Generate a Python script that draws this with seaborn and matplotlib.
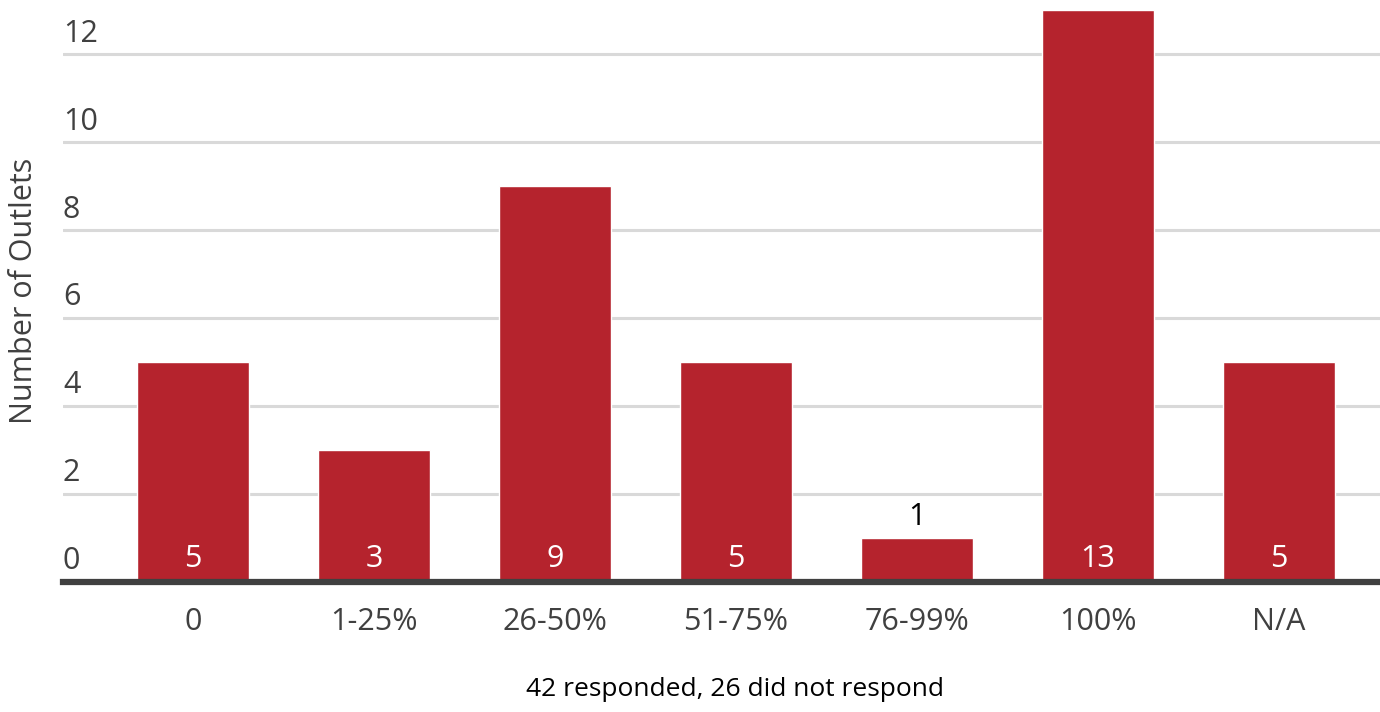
import matplotlib
matplotlib.use("Agg")
import matplotlib.pyplot as plt
import matplotlib.transforms as mtransforms
import pandas as pd
import seaborn as sns

# Share of content categories per outlet
categories = ["0", "1-25%", "26-50%", "51-75%", "76-99%", "100%", "N/A"]
outlets = [5, 3, 9, 5, 1, 13, 5]
yticks = [0, 2, 4, 6, 8, 10, 12]
note = "42 responded, 26 did not respond"

df = pd.DataFrame({"category": categories, "outlets": outlets})

sns.set_style("white")
plt.rcParams["font.family"] = ["Open Sans", "DejaVu Sans"]

bar_color = "#B5232D"
text_color = "#404040"
fs = 22

fig = plt.figure(figsize=(13.8, 7.12), dpi=100)
ax = fig.add_axes([63 / 1380, 1 - 582 / 712, 1 - 63 / 1380, 582 / 712])

sns.barplot(data=df, x="category", y="outlets", color=bar_color,
            saturation=1, width=0.62, ax=ax, zorder=3)

ax.set_ylim(0, 13.23)
ax.set_xlim(-0.72, 6.56)
ax.set_yticks(yticks)
ax.yaxis.grid(True, color="#d9d9d9", linewidth=2.2, zorder=0)
ax.tick_params(axis="y", labelleft=False, length=0)
ax.tick_params(axis="x", length=0, pad=18, labelsize=fs, labelcolor=text_color)

for s in ["top", "right", "left"]:
    ax.spines[s].set_visible(False)
ax.spines["bottom"].set_color(text_color)
ax.spines["bottom"].set_linewidth(4.5)
ax.spines["bottom"].set_zorder(5)

# y tick labels sit above their gridlines
trans = mtransforms.blended_transform_factory(ax.transAxes, ax.transData)
for t in yticks:
    ax.annotate(str(t), xy=(0, t), xycoords=trans, xytext=(0, 4),
                textcoords="offset points", ha="left", va="bottom",
                fontsize=fs, color=text_color)

# value labels
for i, v in enumerate(outlets):
    if v >= 2:
        ax.annotate(str(v), xy=(i, 0), xytext=(0, 6), textcoords="offset points",
                    ha="center", va="bottom", fontsize=fs, color="white", zorder=6)
    else:
        ax.annotate(str(v), xy=(i, v), xytext=(0, 4), textcoords="offset points",
                    ha="center", va="bottom", fontsize=fs, color="black", zorder=6)

ax.set_xlabel("")
ax.set_ylabel("Number of Outlets", fontsize=fs, color=text_color)
ax.yaxis.set_label_coords(-0.0185, 0.5)

fig.text(735 / 1380, 1 - 690 / 712, note, ha="center", va="center", fontsize=19,
         color="black")

fig.savefig("out.png", dpi=100)
